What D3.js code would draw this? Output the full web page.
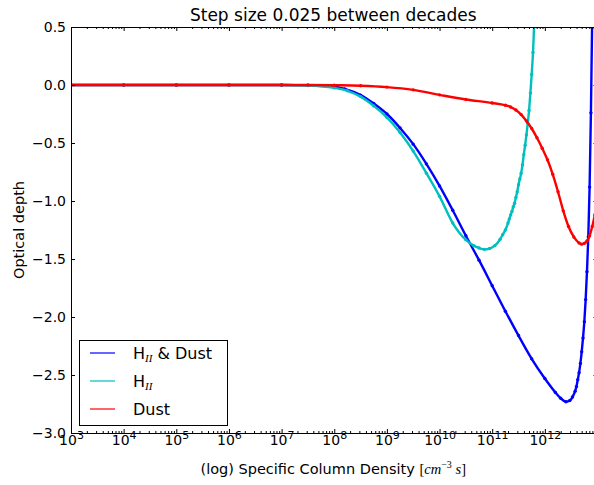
<!DOCTYPE html>
<html>
<head>
<meta charset="utf-8">
<script src="https://cdn.jsdelivr.net/npm/d3@7"></script>
<style>
  body { margin: 0; background: #fff; }
  text { font-family: "DejaVu Sans", sans-serif; fill: #000; }
</style>
</head>
<body>
<svg id="chart" width="594" height="485"></svg>
<script>
// log10 of specific column density, and optical depth
const hiiDustLogN = [3, 4, 5, 6, 7, 7.5, 7.9, 8.2, 8.5, 8.75, 9.0, 9.25, 9.5, 9.75, 10.0, 10.25, 10.5, 10.75,
  11.0, 11.25, 11.5, 11.75, 12.0, 12.2, 12.3, 12.4, 12.475, 12.525, 12.575, 12.6, 12.625, 12.65, 12.675,
  12.7, 12.725, 12.75, 12.775, 12.8, 12.825, 12.85, 12.875, 12.9]
const hiiDustTau = [0, 0, 0, 0, 0, -0.003, -0.009, -0.034, -0.087, -0.16, -0.25, -0.37, -0.51, -0.68, -0.87,
  -1.08, -1.30, -1.51, -1.73, -1.95, -2.16, -2.36, -2.53, -2.65, -2.70, -2.73, -2.72, -2.69, -2.64, -2.60,
  -2.54, -2.48, -2.40, -2.30, -2.18, -2.04, -1.85, -1.61, -1.31, -0.88, -0.24, 0.6]

const hiiLogN = [3, 4, 5, 6, 7, 7.5, 8.0, 8.25, 8.5, 8.75, 9.0, 9.25, 9.5, 9.75, 10.0, 10.25, 10.5, 10.65,
  10.75, 10.85, 10.95, 11.05, 11.15, 11.2, 11.25, 11.3, 11.325, 11.35, 11.375, 11.4, 11.425, 11.45, 11.475,
  11.5, 11.525, 11.55, 11.575, 11.6, 11.625, 11.65, 11.675, 11.7, 11.725, 11.75, 11.775, 11.8]
const hiiTau = [0, 0, 0, 0, 0, -0.004, -0.025, -0.05, -0.10, -0.18, -0.28, -0.41, -0.57, -0.76, -0.96,
  -1.19, -1.335, -1.385, -1.405, -1.417, -1.41, -1.385, -1.33, -1.29, -1.25, -1.19, -1.155, -1.12, -1.09,
  -1.05, -1.02, -0.97, -0.92, -0.86, -0.81, -0.76, -0.69, -0.60, -0.52, -0.43, -0.33, -0.22, -0.07, 0.09,
  0.28, 0.55]

const dustLogN = [3, 4, 5, 6, 7, 7.5, 8.0, 8.5, 9.0, 9.5, 10.0, 10.5, 11.0, 11.25, 11.35, 11.45, 11.55,
  11.65, 11.75, 11.85, 11.95, 12.05, 12.15, 12.25, 12.35, 12.45, 12.55, 12.65, 12.7, 12.75, 12.8, 12.85,
  12.9, 12.95]
const dustTau = [0, 0, 0, 0, 0, 0, -0.002, -0.006, -0.018, -0.042, -0.085, -0.125, -0.155, -0.175, -0.19,
  -0.215, -0.255, -0.31, -0.375, -0.455, -0.545, -0.645, -0.77, -0.92, -1.085, -1.22, -1.31, -1.362,
  -1.372, -1.365, -1.345, -1.30, -1.22, -1.12]

const xTickExponents = [3, 4, 5, 6, 7, 8, 9, 10, 11, 12]
const yTicks = [0.5, 0.0, -0.5, -1.0, -1.5, -2.0, -2.5, -3.0]

const series = [
  { label: ['H', 'II', ' & Dust'], logN: hiiDustLogN, tau: hiiDustTau, color: '#0000ff' },
  { label: ['H', 'II', ''], logN: hiiLogN, tau: hiiTau, color: '#00bfbf' },
  { label: ['Dust', '', ''], logN: dustLogN, tau: dustTau, color: '#ff0000' }
]

const plotLeft = 71
const plotRight = 597.5
const plotTop = 27
const plotBottom = 433

const svg = d3.select('#chart')

const x = d3.scaleLog().domain([1e3, 1e13]).range([plotLeft, plotRight])
const y = d3.scaleLinear().domain([-3, 0.5]).range([plotBottom, plotTop])

const majors = xTickExponents.map(e => Math.pow(10, e))
const minors = []
xTickExponents.forEach(e => {
  for (let k = 2; k <= 9; k++) minors.push(k * Math.pow(10, e))
})

svg.append('clipPath').attr('id', 'plot')
  .append('rect')
  .attr('x', plotLeft).attr('y', plotTop)
  .attr('width', plotRight - plotLeft).attr('height', plotBottom - plotTop)

// curves with their point markers
const line = d3.line()
  .x(d => x(Math.pow(10, d[0])))
  .y(d => y(d[1]))
  .curve(d3.curveMonotoneX)

const plot = svg.append('g').attr('clip-path', 'url(#plot)')

series.forEach(s => {
  const pts = s.logN.map((v, i) => [v, s.tau[i]])
  plot.append('path')
    .datum(pts)
    .attr('d', line)
    .attr('fill', 'none')
    .attr('stroke', s.color)
    .attr('stroke-width', 2.4)
    .attr('stroke-linejoin', 'round')
  plot.selectAll(null)
    .data(pts)
    .join('circle')
    .attr('cx', d => x(Math.pow(10, d[0])))
    .attr('cy', d => y(d[1]))
    .attr('r', 1.7)
    .attr('fill', s.color)
})

// axes, ticks pointing inward on all four sides
const styleAxis = g => {
  g.select('.domain').remove()
  g.attr('font-family', '"DejaVu Sans", sans-serif').attr('font-size', 14)
}

svg.append('g')
  .attr('transform', `translate(0,${plotBottom})`)
  .call(d3.axisBottom(x).tickValues(minors).tickSizeInner(-2).tickSizeOuter(0).tickFormat(''))
  .call(styleAxis)

const gx = svg.append('g')
  .attr('transform', `translate(0,${plotBottom})`)
  .call(d3.axisBottom(x).tickValues(majors).tickSizeInner(-4).tickSizeOuter(0).tickPadding(2).tickFormat(''))
  .call(styleAxis)

gx.selectAll('.tick text').each(function (d) {
  const t = d3.select(this)
  t.append('tspan').text('10')
  t.append('tspan')
    .attr('dy', -6)
    .style('font-size', '11px')
    .text(Math.round(Math.log10(d)))
})

svg.append('g')
  .attr('transform', `translate(0,${plotTop})`)
  .call(d3.axisTop(x).tickValues(minors).tickSizeInner(-2).tickSizeOuter(0).tickFormat(''))
  .call(styleAxis)

svg.append('g')
  .attr('transform', `translate(0,${plotTop})`)
  .call(d3.axisTop(x).tickValues(majors).tickSizeInner(-4).tickSizeOuter(0).tickFormat(''))
  .call(styleAxis)

svg.append('g')
  .attr('transform', `translate(${plotLeft},0)`)
  .call(d3.axisLeft(y).tickValues(yTicks).tickSizeInner(-4).tickSizeOuter(0).tickPadding(5)
    .tickFormat(d3.format('.1f')))
  .call(styleAxis)

svg.append('g')
  .attr('transform', `translate(${plotRight},0)`)
  .call(d3.axisRight(y).tickValues(yTicks).tickSizeInner(-4).tickSizeOuter(0).tickFormat(''))
  .call(styleAxis)

svg.append('rect')
  .attr('x', plotLeft + 0.5).attr('y', plotTop + 0.5)
  .attr('width', plotRight - plotLeft).attr('height', plotBottom - plotTop)
  .attr('fill', 'none')
  .attr('stroke', '#000')
  .attr('stroke-width', 1)

// title and axis labels
svg.append('text')
  .attr('x', (plotLeft + plotRight) / 2 - 1)
  .attr('y', 21)
  .attr('text-anchor', 'middle')
  .style('font-size', '17px')
  .text('Step size 0.025 between decades')

const xl = svg.append('text')
  .attr('x', (plotLeft + plotRight) / 2 - 1)
  .attr('y', 474)
  .attr('text-anchor', 'middle')
  .style('font-size', '14.5px')
xl.append('tspan').text('(log) Specific Column Density ')
xl.append('tspan').style('font-family', '"Liberation Serif", serif').text('[')
xl.append('tspan').style('font-family', '"Liberation Serif", serif').style('font-style', 'italic').text('cm')
xl.append('tspan').attr('dy', -6).style('font-family', '"Liberation Serif", serif').style('font-size', '10px').text('−3')
xl.append('tspan').attr('dy', 6).style('font-family', '"Liberation Serif", serif').style('font-style', 'italic').text(' s')
xl.append('tspan').style('font-family', '"Liberation Serif", serif').text(']')

svg.append('text')
  .attr('transform', 'translate(24,230) rotate(-90)')
  .attr('text-anchor', 'middle')
  .style('font-size', '14.5px')
  .text('Optical depth')

// legend
const legend = svg.append('g')
legend.append('rect')
  .attr('x', 79.5).attr('y', 340.5)
  .attr('width', 148).attr('height', 85)
  .attr('fill', '#fff')
  .attr('stroke', '#000')
  .attr('stroke-width', 1)

series.forEach((s, i) => {
  const ly = 353 + i * 28
  legend.append('line')
    .attr('x1', 90).attr('x2', 115)
    .attr('y1', ly).attr('y2', ly)
    .attr('stroke', s.color)
    .attr('stroke-width', 1.2)
  const t = legend.append('text')
    .attr('x', 133)
    .attr('y', ly + 6)
    .style('font-size', '16px')
  t.append('tspan').text(s.label[0])
  if (s.label[1]) {
    t.append('tspan')
      .attr('dy', 3)
      .style('font-family', '"Liberation Serif", serif')
      .style('font-style', 'italic')
      .style('font-size', '11px')
      .text(s.label[1])
    t.append('tspan').attr('dy', -3).text(s.label[2])
  }
})
</script>
</body>
</html>
